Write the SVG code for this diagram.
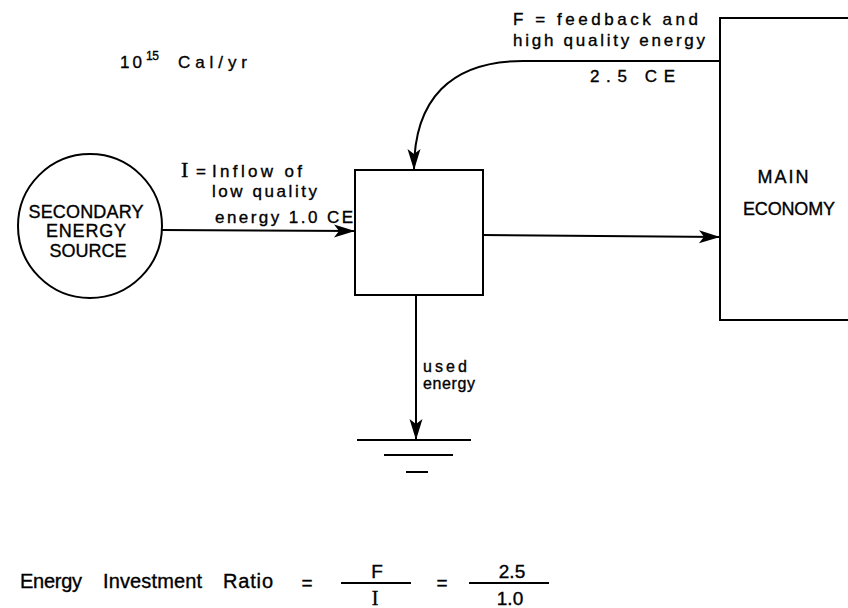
<svg xmlns="http://www.w3.org/2000/svg" width="848" height="608" viewBox="0 0 848 608">
<style>
.ln{fill:none;stroke:#000;stroke-width:2;stroke-linecap:square}
.t{font-family:"Liberation Sans",Arial,sans-serif;fill:#000;stroke:#000;stroke-width:0.35}
.c{text-anchor:middle}
.s{font-family:"Liberation Serif","Times New Roman",serif}
</style>
<defs>
<marker id="ah" markerUnits="userSpaceOnUse" markerWidth="24" markerHeight="16" viewBox="-1 -8 24 16" refX="21" refY="0" orient="auto">
<path d="M0,-6.5 L21,0 L0,6.5 L5,0 Z" fill="#000"/>
</marker>
</defs>
<rect width="848" height="608" fill="#fff"/>
<g id="units">
<text class="t" x="120" y="68" font-size="17" textLength="22">10</text>
<text class="t" x="146" y="60" font-size="12" textLength="13">15</text>
<text class="t" x="178" y="68" font-size="17" textLength="69">Cal/yr</text>
</g>
<g id="source">
<circle cx="90" cy="226" r="72" class="ln"/>
<text class="t c" x="86" y="218" font-size="18" textLength="115">SECONDARY</text>
<text class="t c" x="86" y="237" font-size="18" textLength="80">ENERGY</text>
<text class="t c" x="88" y="257" font-size="18" textLength="77">SOURCE</text>
</g>
<g id="interaction">
<rect x="355" y="170" width="128" height="125" class="ln"/>
</g>
<g id="economy">
<path d="M848,18 L720,18 L720,320 L848,320" class="ln"/>
<text class="t c" x="783" y="183" font-size="18" textLength="51">MAIN</text>
<text class="t c" x="789" y="215" font-size="18" textLength="92">ECONOMY</text>
</g>
<g id="ground">
<line x1="358" y1="440" x2="470" y2="440" class="ln"/>
<line x1="385" y1="455" x2="452" y2="455" class="ln"/>
<line x1="407" y1="472" x2="427" y2="472" class="ln"/>
</g>
<g id="connectors">
<line x1="162" y1="230" x2="355" y2="231" class="ln" marker-end="url(#ah)"/>
<path d="M720,61 L523,61 C450,61 414,100 414,170" class="ln" marker-end="url(#ah)"/>
<line x1="483" y1="235" x2="720" y2="237" class="ln" marker-end="url(#ah)"/>
<line x1="416" y1="295" x2="416" y2="440" class="ln" marker-end="url(#ah)"/>
</g>
<g id="labels">
<text class="t s" x="181" y="177" font-size="22">I</text>
<text class="t" x="196" y="177" font-size="17">=</text>
<text class="t" x="212" y="177" font-size="17" textLength="90">Inflow  of</text>
<text class="t" x="212" y="197" font-size="17" textLength="105">low quality</text>
<text class="t" x="215" y="223" font-size="17" textLength="138">energy 1.0 CE</text>
<text class="t" x="513" y="25" font-size="17" textLength="185">F =  feedback and</text>
<text class="t" x="513" y="46" font-size="17" textLength="192">high quality energy</text>
<text class="t" x="590" y="82" font-size="17" textLength="85">2.5  CE</text>
<text class="t" x="423" y="372" font-size="16" textLength="44">used</text>
<text class="t" x="423" y="389" font-size="16" textLength="52">energy</text>
</g>
<g id="formula">
<text class="t" x="20" y="588" font-size="20" textLength="62">Energy</text>
<text class="t" x="103" y="588" font-size="20" textLength="99">Investment</text>
<text class="t" x="223" y="588" font-size="20" textLength="50">Ratio</text>
<text class="t c" x="307" y="589" font-size="19">=</text>
<line x1="342" y1="583" x2="410" y2="583" class="ln" stroke-width="1.5"/>
<text class="t c" x="377" y="578" font-size="19">F</text>
<text class="t c s" x="375" y="605" font-size="20">I</text>
<text class="t c" x="442" y="589" font-size="19">=</text>
<line x1="470" y1="583" x2="548" y2="583" class="ln" stroke-width="1.5"/>
<text class="t c" x="512" y="578" font-size="19">2.5</text>
<text class="t c" x="510" y="605" font-size="19">1.0</text>
</g>
</svg>
